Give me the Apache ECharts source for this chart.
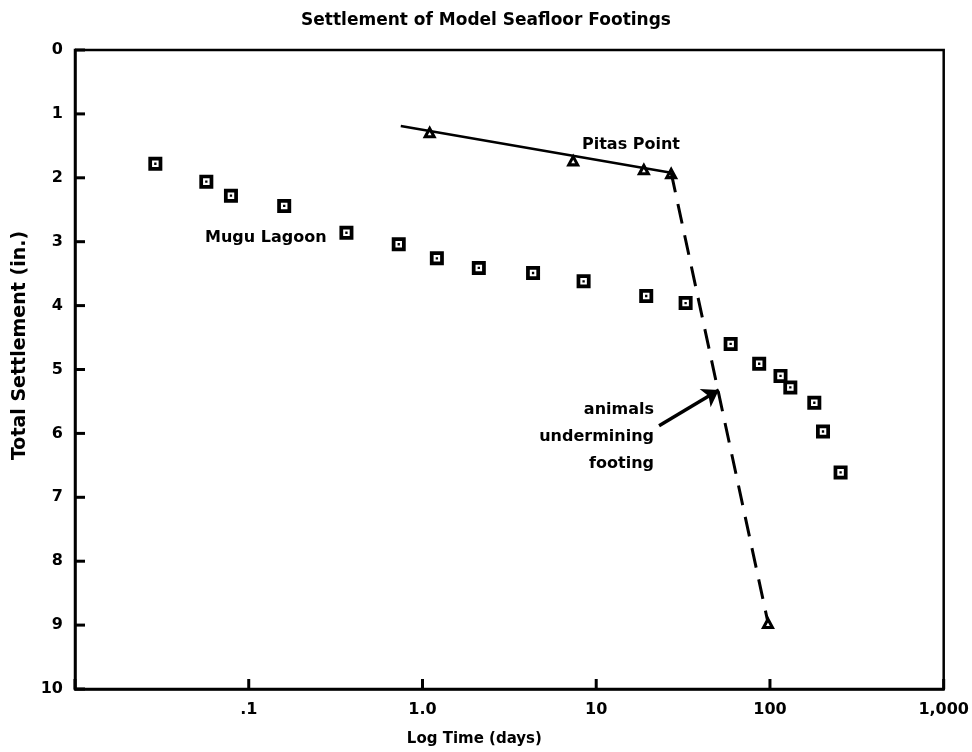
<!DOCTYPE html>
<html>
<head>
<meta charset="utf-8">
<style>
  html, body { margin: 0; padding: 0; background: #fff; }
  #chart { width: 972px; height: 752px; }
</style>
<script src="https://cdn.jsdelivr.net/npm/echarts@6/dist/echarts.min.js"></script>
</head>
<body>
<div id="chart"></div>
<script>
// ---- data ----
const xTickValues = [0.01, 0.1, 1, 10, 100, 1000];
const xTickLabels = ['', '.1', '1.0', '10', '100', '1,000'];
const yTickValues = [0, 1, 2, 3, 4, 5, 6, 7, 8, 9, 10];

const muguTime = [0.029, 0.057, 0.079, 0.16, 0.365, 0.73, 1.21, 2.11, 4.33, 8.46, 19.4, 32.7, 59.4, 86.7, 115, 131, 180, 202, 255];
const muguSettlement = [1.78, 2.06, 2.28, 2.44, 2.86, 3.04, 3.26, 3.41, 3.49, 3.62, 3.85, 3.96, 4.60, 4.91, 5.10, 5.28, 5.52, 5.97, 6.61];

const pitasTime = [1.10, 7.37, 18.8, 27.0, 97.4];
const pitasSettlement = [1.28, 1.72, 1.86, 1.92, 8.96];

const pitasTrendTime = [0.75, 27.0];
const pitasTrendSettlement = [1.19, 1.92];

const pitasFailureTime = [27.0, 97.4];
const pitasFailureSettlement = [1.92, 8.96];

const arrowTime = [23, 50.8];
const arrowSettlement = [5.88, 5.32];

// ---- build chart ----
const zip = (a, b) => a.map((v, i) => [v, b[i]]);
const FONT = '"DejaVu Sans", "Liberation Sans", Arial, sans-serif';

const squareSymbol = 'path://M0,0L12,0L12,12L0,12Z M3.2,3.2L3.2,8.8L8.8,8.8L8.8,3.2Z M5,5L7,5L7,7L5,7Z';
const triangleSymbol = 'path://M6,0L12,11L0,11Z M6,5.4L4.4,8.4L7.6,8.4Z';

const TICK_LEN = 10;
const xMin = xTickValues[0], xMax = xTickValues[xTickValues.length - 1];
const yMin = yTickValues[0], yMax = yTickValues[yTickValues.length - 1];

// inward tick marks placed through the axes' own scales
const tickData = xTickValues.map(v => [v, yMax, 0]).concat(yTickValues.map(v => [xMin, v, 1]));
function renderTick(params, api) {
  const p = api.coord([api.value(0), api.value(1)]);
  const isX = api.value(2) === 0;
  return {
    type: 'line',
    shape: isX ? { x1: p[0], y1: p[1], x2: p[0], y2: p[1] - TICK_LEN }
               : { x1: p[0], y1: p[1], x2: p[0] + TICK_LEN, y2: p[1] },
    style: { stroke: '#000000', lineWidth: 3 }
  };
}

const chart = echarts.init(document.getElementById('chart'));

chart.setOption({
  animation: false,
  backgroundColor: '#ffffff',
  title: {
    text: 'Settlement of Model Seafloor Footings',
    left: 'center',
    top: 12,
    padding: 0,
    textStyle: { fontFamily: FONT, fontWeight: 'bold', fontSize: 17, color: '#000' }
  },
  grid: {
    left: 75, right: 25, top: 50, bottom: 61,
    show: true, borderColor: '#000', borderWidth: 2.5, backgroundColor: 'transparent'
  },
  xAxis: {
    type: 'log',
    logBase: 10,
    min: xMin,
    max: xMax,
    name: 'Log Time (days)',
    nameLocation: 'middle',
    nameGap: 43,
    nameTextStyle: { fontFamily: FONT, fontWeight: 'bold', fontSize: 15, color: '#000', padding: [0, 70, 0, 0] },
    axisLine: { show: true, onZero: false, lineStyle: { color: '#000', width: 2.5 } },
    axisTick: { show: false },
    minorTick: { show: false },
    splitLine: { show: false },
    axisLabel: {
      show: true,
      margin: 13,
      fontFamily: FONT, fontWeight: 'bold', fontSize: 16, color: '#000',
      formatter: function (v) {
        const i = Math.round(Math.log10(v)) + 2;
        return xTickLabels[i] !== undefined ? xTickLabels[i] : '';
      }
    }
  },
  yAxis: {
    type: 'value',
    inverse: true,
    min: yMin,
    max: yMax,
    interval: 1,
    name: 'Total Settlement (in.)',
    nameLocation: 'middle',
    nameGap: 44,
    nameTextStyle: { fontFamily: FONT, fontWeight: 'bold', fontSize: 19, color: '#000', padding: [0, 0, 0, 48] },
    axisLine: { show: true, onZero: false, lineStyle: { color: '#000', width: 2.5 } },
    axisTick: { show: false },
    splitLine: { show: false },
    axisLabel: { show: true, margin: 12, fontFamily: FONT, fontWeight: 'bold', fontSize: 16, color: '#000' }
  },
  series: [
    {
      type: 'custom',
      renderItem: renderTick,
      data: tickData,
      encode: { x: 0, y: 1 },
      clip: false,
      z: 10
    },
    {
      name: 'Pitas Point trend',
      type: 'line',
      data: zip(pitasTrendTime, pitasTrendSettlement),
      showSymbol: false,
      symbol: 'none',
      lineStyle: { color: '#000', width: 2.5 }
    },
    {
      name: 'Pitas Point failure',
      type: 'line',
      data: zip(pitasFailureTime, pitasFailureSettlement),
      showSymbol: false,
      symbol: 'none',
      lineStyle: { color: '#000', width: 3, type: [20, 12] },
      markLine: {
        silent: true,
        symbol: ['none', 'arrow'],
        symbolSize: 16,
        label: { show: false },
        lineStyle: { color: '#000', width: 3.5, type: 'solid' },
        data: [[
          { coord: [arrowTime[0], arrowSettlement[0]] },
          { coord: [arrowTime[1], arrowSettlement[1]] }
        ]]
      }
    },
    {
      name: 'Mugu Lagoon',
      type: 'scatter',
      data: zip(muguTime, muguSettlement),
      symbol: squareSymbol,
      symbolSize: 14,
      itemStyle: { color: '#000', opacity: 1 }
    },
    {
      name: 'Pitas Point',
      type: 'scatter',
      data: zip(pitasTime, pitasSettlement),
      symbol: triangleSymbol,
      symbolSize: [14, 13],
      itemStyle: { color: '#000', opacity: 1 }
    }
  ],
  graphic: [
    {
      type: 'text', x: 582, y: 145, z: 10,
      style: { text: 'Pitas Point', fill: '#000', font: 'bold 16px ' + FONT, align: 'left', verticalAlign: 'middle' }
    },
    {
      type: 'text', x: 205, y: 238, z: 10,
      style: { text: 'Mugu Lagoon', fill: '#000', font: 'bold 16px ' + FONT, align: 'left', verticalAlign: 'middle' }
    },
    {
      type: 'text', x: 654, y: 437, z: 10,
      style: { text: 'animals\nundermining\nfooting', fill: '#000', font: 'bold 16px ' + FONT, lineHeight: 27, align: 'right', verticalAlign: 'middle' }
    }
  ]
});
</script>
</body>
</html>
